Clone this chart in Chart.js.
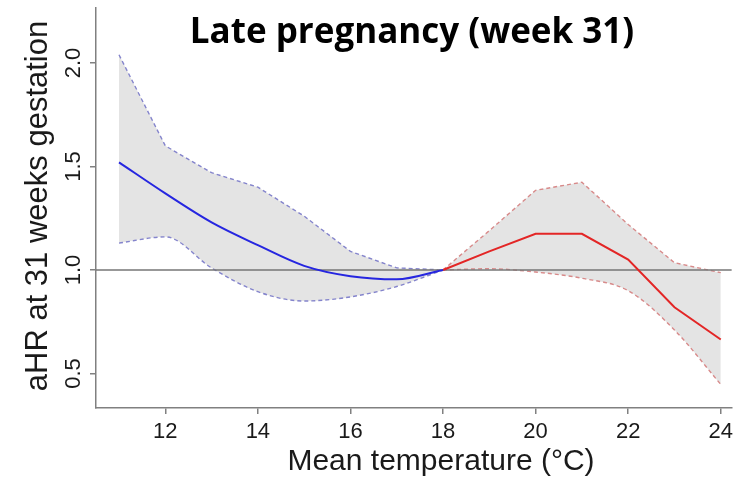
<!DOCTYPE html>
<html>
<head>
<meta charset="utf-8">
<script src="https://cdn.jsdelivr.net/npm/chart.js@4"></script>
<style>
  html, body { margin: 0; padding: 0; background: #fff; }
  #wrap { width: 738px; height: 478px; }
</style>
</head>
<body>
<div id="wrap"><canvas id="hrChart"></canvas></div>
<script>
'use strict';

// Cold side (blue): 11 to 18 degrees
const coldTemp = [11, 12, 13, 14, 15, 16, 17, 18];
const coldHR = [1.52, 1.37, 1.23, 1.12, 1.02, 0.97, 0.955, 1.0];
const coldLow = [1.13, 1.16, 1.01, 0.895, 0.85, 0.87, 0.92, 1.0];
const coldHigh = [2.04, 1.60, 1.47, 1.40, 1.26, 1.09, 1.01, 1.0];

// Warm side (red): 18 to 24 degrees
const warmTemp = [18, 19, 20, 21, 22, 23, 24];
const warmHR = [1.0, 1.09, 1.175, 1.175, 1.05, 0.82, 0.664];
const warmLow = [1.0, 1.006, 0.99, 0.96, 0.90, 0.71, 0.447];
const warmHigh = [1.0, 1.19, 1.385, 1.424, 1.22, 1.035, 0.987];

const xTicks = [12, 14, 16, 18, 20, 22, 24];
const yTicks = [0.5, 1.0, 1.5, 2.0];
const yTickLabels = ['0.5', '1.0', '1.5', '2.0'];
const refValue = 1.0;

const titleText = 'Late pregnancy (week 31)';
const xTitle = 'Mean temperature (\u00B0C)';
const yTitle = 'aHR at 31 weeks gestation';

const pts = (xs, ys) => xs.map((x, i) => ({ x, y: ys[i] }));
const axisGrey = '#808080';
const textClr = '#1a1a1a';
const band = '#e4e4e4';

// ref line, y tick labels and titles drawn R-style
const decor = {
    id: 'decor',
    beforeDatasetDraw(chart, args) {
        if (args.index !== 1) return;
        const { ctx, chartArea, scales } = chart;
        const y = scales.y.getPixelForValue(refValue);
        ctx.save();
        ctx.strokeStyle = '#767676';
        ctx.lineWidth = 1.5;
        ctx.beginPath();
        ctx.moveTo(chartArea.left, y);
        ctx.lineTo(chartArea.right, y);
        ctx.stroke();
        ctx.restore();
    },
    afterDraw(chart) {
        const { ctx, scales } = chart;
        ctx.save();
        ctx.fillStyle = textClr;
        ctx.font = '22px "Liberation Sans", Arial, sans-serif';
        ctx.textAlign = 'center';
        ctx.textBaseline = 'alphabetic';
        yTicks.forEach((v, i) => {
            ctx.save();
            ctx.translate(80, scales.y.getPixelForValue(v));
            ctx.rotate(-Math.PI / 2);
            ctx.fillText(yTickLabels[i], 0, 0);
            ctx.restore();
        });
        ctx.font = '31px "Liberation Sans", Arial, sans-serif';
        ctx.save();
        ctx.translate(47, 206);
        ctx.rotate(-Math.PI / 2);
        ctx.fillText(yTitle, 0, 0);
        ctx.restore();
        ctx.font = '30px "Liberation Sans", Arial, sans-serif';
        ctx.fillText(xTitle, 441, 470);
        ctx.fillStyle = '#000';
        ctx.font = 'bold 35px "Open Sans", sans-serif';
        ctx.fillText(titleText, 412, 43);
        ctx.restore();
    }
};

new Chart(document.getElementById('hrChart'), {
    type: 'line',
    data: {
        datasets: [
            { data: pts(coldTemp, coldHR), borderColor: '#2626e0', borderWidth: 2, cubicInterpolationMode: 'monotone', fill: false },
            { data: pts(warmTemp, warmHR), borderColor: '#e32626', borderWidth: 2, tension: 0, fill: false },
            { data: pts(coldTemp, coldLow), borderColor: '#8484cc', borderWidth: 1.4, borderDash: [4, 3], cubicInterpolationMode: 'monotone', fill: false },
            { data: pts(coldTemp, coldHigh), borderColor: '#8484cc', borderWidth: 1.4, borderDash: [4, 3], tension: 0, fill: { target: 2 }, backgroundColor: band },
            { data: pts(warmTemp, warmLow), borderColor: '#d88a8a', borderWidth: 1.4, borderDash: [4, 3], cubicInterpolationMode: 'monotone', fill: false },
            { data: pts(warmTemp, warmHigh), borderColor: '#d88a8a', borderWidth: 1.4, borderDash: [4, 3], tension: 0, fill: { target: 4 }, backgroundColor: band },
        ],
    },
    options: {
        responsive: true, maintainAspectRatio: false, animation: false,
        layout: { autoPadding: false, padding: { top: 8, right: 0, left: 0, bottom: 0 } },
        elements: { point: { radius: 0 } },
        plugins: { legend: { display: false }, tooltip: { enabled: false } },
        scales: {
            x: {
                type: 'linear', min: 10.503, max: 24.235,
                afterBuildTicks: s => { s.ticks = xTicks.map(v => ({ value: v })); },
                afterFit: s => { s.height = 70; },
                grid: { drawOnChartArea: false, color: axisGrey, lineWidth: 1.5, tickLength: 6 },
                border: { color: axisGrey, width: 1.5 },
                ticks: { color: textClr, padding: 5, font: { family: '"Liberation Sans", Arial', size: 22 }, maxRotation: 0 },
            },
            y: {
                min: 0.333, max: 2.266,
                afterBuildTicks: s => { s.ticks = yTicks.map(v => ({ value: v })); },
                afterFit: s => { s.width = 96; },
                grid: { drawOnChartArea: false, color: axisGrey, lineWidth: 1.5, tickLength: 6 },
                border: { color: axisGrey, width: 1.5 },
                ticks: { display: false },
            },
        },
    },
    plugins: [decor],
});
</script>
</body>
</html>
